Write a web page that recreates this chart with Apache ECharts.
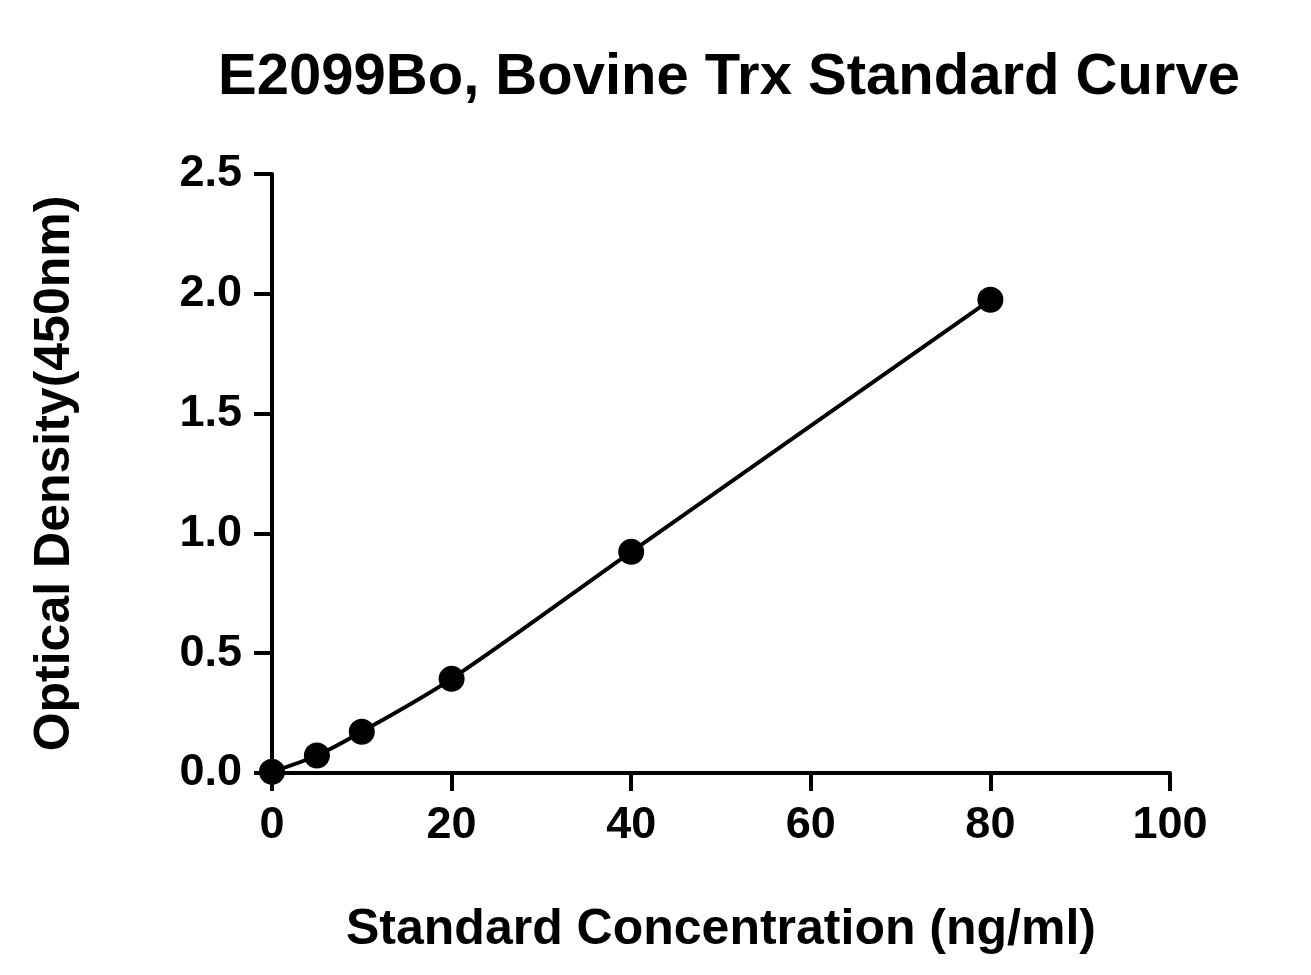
<!DOCTYPE html>
<html><head><meta charset="utf-8">
<script src="https://cdn.jsdelivr.net/npm/echarts@6/dist/echarts.min.js"></script>
<style>html,body{margin:0;padding:0;background:#fff}#c{width:1311px;height:975px}</style>
</head><body><div id="c"></div>
<script>
const concentrations = [0, 5, 10, 20, 40, 80];
const odValues = [0.005, 0.073, 0.172, 0.393, 0.923, 1.975];
const xTicks = [0, 20, 40, 60, 80, 100];
const yTicks = [0, 0.5, 1.0, 1.5, 2.0, 2.5];
const chart = echarts.init(document.getElementById('c'));
const font = 'Liberation Sans, Arial, sans-serif';
const axisCommon = {
  axisLine: {show: true, onZero: false, lineStyle: {color: '#000', width: 4}},
  axisTick: {show: true, length: 18, inside: false, lineStyle: {color: '#000', width: 4}},
  splitLine: {show: false},
  axisLabel: {color: '#000', fontSize: 45, fontWeight: 'bold', fontFamily: font},
  nameTextStyle: {color: '#000', fontSize: 50, fontWeight: 'bold', fontFamily: font}
};
chart.setOption({
  animation: false,
  title: {text: 'E2099Bo, Bovine Trx Standard Curve', left: 724, top: 44, textAlign: 'center',
    textStyle: {fontSize: 58, fontWeight: 'bold', color: '#000', fontFamily: font}},
  grid: {left: 272, right: 141, top: 174, bottom: 202},
  xAxis: Object.assign({}, axisCommon, {type: 'value', min: 0, max: 100, interval: 20,
    name: 'Standard Concentration (ng/ml)', nameLocation: 'middle', nameGap: 132,
    axisLabel: Object.assign({}, axisCommon.axisLabel, {margin: 30})}),
  yAxis: Object.assign({}, axisCommon, {type: 'value', min: 0, max: 2.5, interval: 0.5,
    name: 'Optical Density(450nm)', nameLocation: 'middle', nameGap: 192,
    axisLabel: Object.assign({}, axisCommon.axisLabel, {margin: 30, formatter: v => v.toFixed(1)})}),
  series: [{type: 'line', data: concentrations.map((c, i) => [c, odValues[i]]),
    smooth: 0.3, symbol: 'circle', symbolSize: 26,
    lineStyle: {color: '#000', width: 4}, itemStyle: {color: '#000'}}]
});
</script></body></html>
